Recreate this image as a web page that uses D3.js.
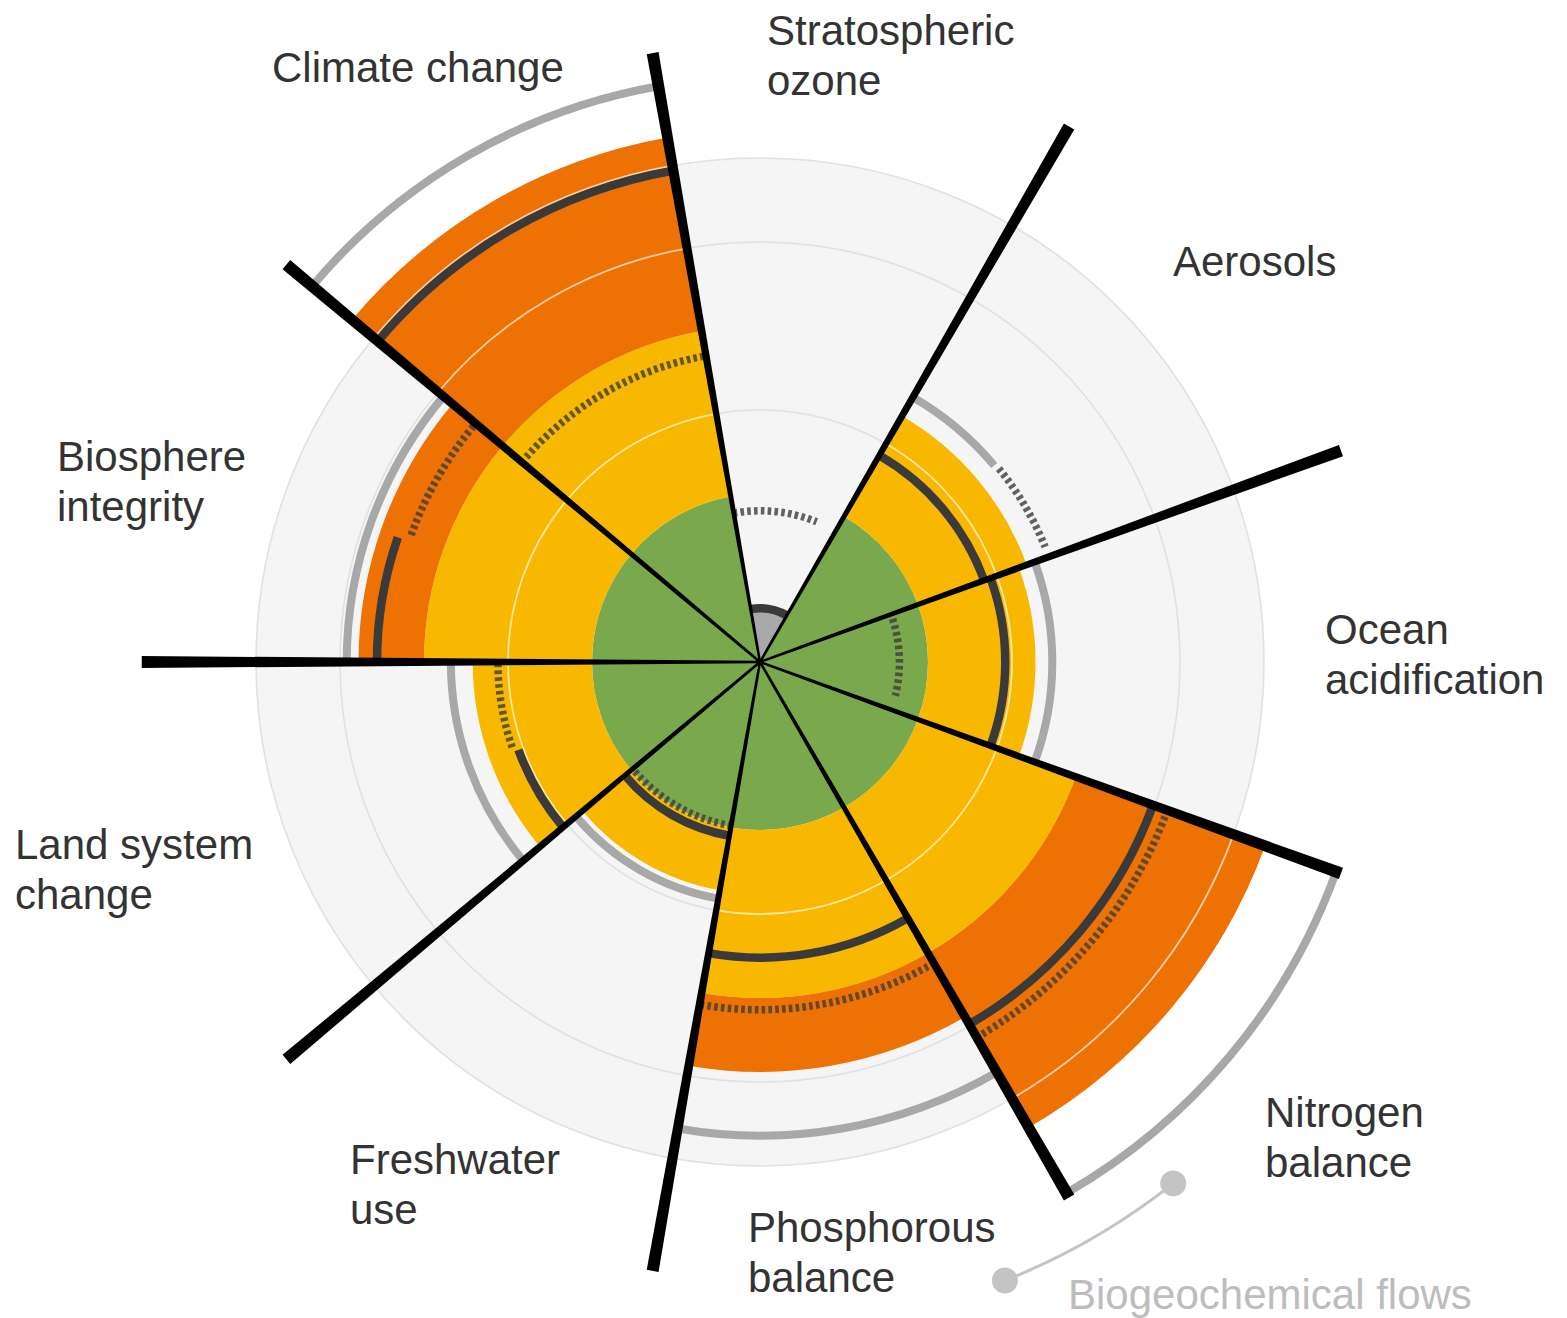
<!DOCTYPE html>
<html><head><meta charset="utf-8">
<script src="https://cdn.jsdelivr.net/npm/d3@7"></script>
<style>
html,body{margin:0;padding:0;background:#fff;}
svg{display:block;}
text{font-family:"Liberation Sans",Arial,Helvetica,sans-serif;}
</style>
</head><body>
<svg id="chart" width="1567" height="1318"></svg>
<script>
// ---- data (radial values in "boundary units": 1 = planetary boundary) ----
const categories = ["Stratospheric ozone","Aerosols","Ocean acidification","Nitrogen balance","Phosphorous balance","Freshwater use","Land system change","Biosphere integrity","Climate change"];
const labelLines = [["Stratospheric","ozone"],["Aerosols"],["Ocean","acidification"],["Nitrogen","balance"],["Phosphorous","balance"],["Freshwater","use"],["Land system","change"],["Biosphere","integrity"],["Climate change"]];
const sectorStart = [-10, 30, 70, 110, 150, 190, 230, 270, 310];
const sectorEnd   = [30, 70, 110, 150, 190, 230, 270, 310, 350];
const safeTo        = [0, 1, 1, 1, 1, 1, 1, 1, 1];
const capTo         = [0.30, 0, 0, 0, 0, 0, 0, 0, 0];
const uncertaintyTo = [0, 1.69, 1.64, 2.0, 2.0, 1.38, 1.71, 2.0, 2.0];
const highRiskTo    = [0, 0, 0, 3.2, 2.44, 0, 0, 2.39, 3.17];
const statusLevel = [0.32, 1.42, 1.46, 2.49, 1.76, 1.05, 1.53, 2.28, 2.97];
const statusFrom  = [-10, 30, 70, 110, 150, 190, 230, 270, 310];
const statusTo    = [30, 70, 110, 150, 190, 230, 250, 289, 350];
const trendLevel = [0.90, 1.83, 0.83, 2.58, 2.07, 0.99, 1.56, 2.21, 1.85];
const trendFrom  = [-10, 51, 72, 110, 150, 190, 251, 290, 310];
const trendTo    = [22, 68, 104, 150, 190, 230, 270, 310, 350];
const limitLevel = [0, 1.82, 1.74, 3.65, 2.82, 1.43, 1.84, 2.46, 3.48];
const limitFrom  = [0, 30, 70, 110, 150, 190, 230, 270, 310];
const limitTo    = [0, 50, 110, 150, 190, 230, 270, 310, 350];
const gridLevels = [1.5, 2.5, 3];
const outerLevel = 3;
const separatorLevel = 3.68;
const groupLabel = "Biogeochemical flows";
const groupFrom = 141.6, groupTo = 158.4, groupLevel = 3.96;

// ---- layout ----
const cx = 760, cy = 662;
const r = d3.scaleLinear().domain([0, 1]).range([0, 168]);
const rad = d => d * Math.PI / 180;
const colors = {bg:"#f5f5f5", grid:"#e1e1e1", green:"#7aa84c", yellow:"#f9b800", orange:"#ee7203",
  cap:"#a9a9a9", status:"#3a3a3a", trend:"#3c3c3c", limit:"#a8a8a8", sep:"#000", text:"#333", group:"#c4c4c4"};

const svg = d3.select("#chart");
const g = svg.append("g").attr("transform", `translate(${cx},${cy})`);

function arcLine(level, a0, a1) {
  const p = d3.path();
  p.arc(0, 0, r(level), rad(a0 - 90), rad(a1 - 90), false);
  return p.toString();
}
const band = d3.arc();

// background disc and grid rings
g.append("circle").attr("r", r(outerLevel)).attr("fill", colors.bg)
  .attr("stroke", colors.grid).attr("stroke-width", 1.6);
g.selectAll("circle.grid").data(gridLevels.filter(v => v < outerLevel)).join("circle")
  .attr("class", "grid").attr("r", d => r(d)).attr("fill", "none")
  .attr("stroke", colors.grid).attr("stroke-width", 1.6);

const idx = d3.range(categories.length);

// fills
function fillBand(from, to, color, filterFn) {
  g.append("g").selectAll("path").data(idx.filter(filterFn)).join("path")
    .attr("d", i => band({innerRadius: r(from(i)), outerRadius: r(to(i)),
      startAngle: rad(sectorStart[i]), endAngle: rad(sectorEnd[i])}))
    .attr("fill", color);
}
fillBand(i => 0, i => capTo[i], colors.cap, i => capTo[i] > 0);
fillBand(i => 0, i => safeTo[i], colors.green, i => safeTo[i] > 0);
fillBand(i => safeTo[i], i => uncertaintyTo[i], colors.yellow, i => uncertaintyTo[i] > 0);
fillBand(i => uncertaintyTo[i], i => highRiskTo[i], colors.orange, i => highRiskTo[i] > 0);

// white grid rings over coloured areas
const gridOver = [];
idx.forEach(i => {
  const top = Math.max(uncertaintyTo[i], highRiskTo[i]);
  gridLevels.forEach(lv => { if (lv > safeTo[i] && lv < top) gridOver.push({i, lv}); });
});
g.append("g").selectAll("path").data(gridOver).join("path")
  .attr("d", d => arcLine(d.lv, sectorStart[d.i], sectorEnd[d.i]))
  .attr("fill", "none").attr("stroke", "#fff").attr("stroke-opacity", 0.65).attr("stroke-width", 1.8);

// limit arcs (light grey)
g.append("g").selectAll("path").data(idx.filter(i => limitLevel[i] > 0)).join("path")
  .attr("d", i => arcLine(limitLevel[i], limitFrom[i], limitTo[i]))
  .attr("fill", "none").attr("stroke", colors.limit).attr("stroke-width", 8);

// trend arcs (dashed)
g.append("g").selectAll("path").data(idx).join("path")
  .attr("d", i => arcLine(trendLevel[i], trendFrom[i], trendTo[i]))
  .attr("fill", "none").attr("stroke", colors.trend).attr("stroke-opacity", 0.8)
  .attr("stroke-width", 7.5).attr("stroke-dasharray", "3.6 3.2");

// status arcs (dark solid)
g.append("g").selectAll("path").data(idx).join("path")
  .attr("d", i => arcLine(statusLevel[i], statusFrom[i], statusTo[i]))
  .attr("fill", "none").attr("stroke", colors.status).attr("stroke-width", 8.5);

// separators (tapered spokes)
const w0 = 1.2, w1 = 6;
g.append("g").selectAll("path").data(sectorStart).join("path")
  .attr("d", a => {
    const t = rad(a), L = r(separatorLevel);
    const dx = Math.sin(t), dy = -Math.cos(t), px = Math.cos(t), py = Math.sin(t);
    return `M${px*w0},${py*w0}L${dx*L+px*w1},${dy*L+py*w1}L${dx*L-px*w1},${dy*L-py*w1}L${-px*w0},${-py*w0}Z`;
  })
  .attr("fill", colors.sep);

// group annotation
g.append("path").attr("d", arcLine(groupLevel, groupFrom, groupTo))
  .attr("fill", "none").attr("stroke", colors.group).attr("stroke-width", 3);
g.selectAll("circle.gdot").data([groupFrom, groupTo]).join("circle").attr("class", "gdot")
  .attr("cx", a => r(groupLevel) * Math.sin(rad(a)))
  .attr("cy", a => -r(groupLevel) * Math.cos(rad(a)))
  .attr("r", 13).attr("fill", colors.group);

// labels
const labelPos = [[767,45],[1173,276],[1325,644],[1265,1127],[748,1242],[350,1174],[15,859],[57,471],[272,82]];
const lab = svg.append("g").attr("font-size", 42).attr("fill", colors.text);
idx.forEach(i => {
  const t = lab.append("text").attr("x", labelPos[i][0]).attr("y", labelPos[i][1]);
  labelLines[i].forEach((s, k) => t.append("tspan").attr("x", labelPos[i][0]).attr("dy", k ? 50 : 0).text(s));
});
svg.append("text").attr("x", 1068).attr("y", 1309).attr("font-size", 42)
  .attr("fill", "#bdbdbd").text(groupLabel);
</script>
</body></html>
